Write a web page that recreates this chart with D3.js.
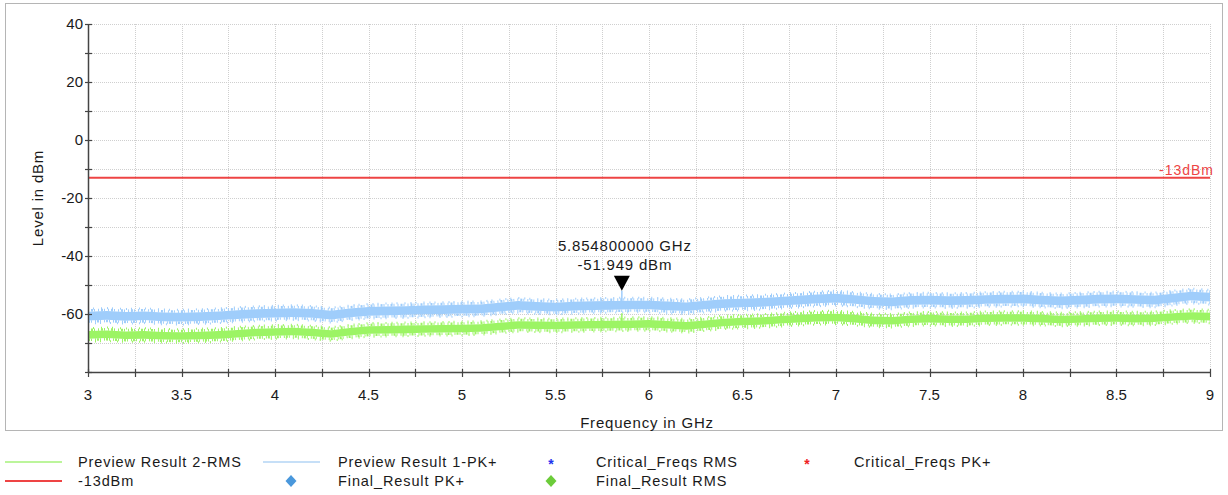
<!DOCTYPE html>
<html><head><meta charset="utf-8">
<script src="https://cdn.jsdelivr.net/npm/d3@7"></script>
<style>
html,body{margin:0;padding:0;background:#fff;}
svg{display:block;font-family:"Liberation Sans",Arial,sans-serif;}
</style></head>
<body>
<svg id="c" width="1228" height="495"></svg>
<script>
// ---- data ----
const freqs = d3.range(61).map(i => +(3 + i * 0.1).toFixed(1)); // GHz sample grid
const bluePk = [-60.7,-60.5,-60.8,-60.6,-61.0,-61.1,-60.9,-60.6,-60.2,-59.9,
  -59.7,-59.5,-59.8,-60.4,-59.6,-59.1,-58.9,-58.8,-58.6,-58.5,
  -58.3,-58.2,-57.6,-57.0,-57.4,-57.6,-57.3,-57.1,-57.0,-56.9,
  -56.9,-57.2,-57.5,-56.9,-56.4,-56.2,-56.0,-55.6,-55.2,-54.8,
  -54.5,-55.0,-55.6,-55.8,-55.3,-55.2,-55.4,-55.3,-55.0,-54.9,
  -54.8,-55.2,-55.5,-55.2,-54.9,-54.8,-55.0,-55.2,-54.5,-53.8,-54.2];
const greenRms = [-67.2,-67.0,-67.3,-67.2,-67.5,-67.6,-67.4,-67.2,-66.8,-66.4,
  -66.2,-66.0,-66.4,-66.9,-66.1,-65.5,-65.4,-65.3,-65.2,-65.1,
  -65.0,-64.8,-64.3,-63.8,-63.9,-64.0,-63.8,-63.7,-63.6,-63.5,
  -63.4,-63.7,-64.1,-63.5,-62.9,-62.6,-62.4,-62.0,-61.6,-61.3,
  -61.2,-61.6,-62.2,-62.3,-61.8,-61.6,-61.8,-61.8,-61.5,-61.4,
  -61.4,-61.6,-61.9,-61.7,-61.5,-61.4,-61.6,-61.5,-61.0,-60.7,-60.9];
const blueSpread = 1.5;   // dB half-width of noise band core
const greenSpread = 1.3;
const markerFreq = 5.8548, markerLevel = -51.949, greenSpikeLevel = -59.7;
const limitLevel = -13;
const yTicksMajor = [-60,-40,-20,0,20,40];
const xTicksMajor = [3,3.5,4,4.5,5,5.5,6,6.5,7,7.5,8,8.5,9];
const legendItems = [
  {label:"Preview Result 2-RMS", type:"line", color:"#a6f27a", col:0, row:0},
  {label:"Preview Result 1-PK+", type:"line", color:"#b3d5f5", col:1, row:0},
  {label:"Critical_Freqs RMS", type:"star", color:"#2233ee", col:2, row:0},
  {label:"Critical_Freqs PK+", type:"star", color:"#ee2222", col:3, row:0},
  {label:"-13dBm", type:"line2", color:"#ee4444", col:0, row:1},
  {label:"Final_Result PK+", type:"diamond", color:"#4a98dc", col:1, row:1},
  {label:"Final_Result RMS", type:"diamond", color:"#6ccc3a", col:2, row:1}
];

// ---- drawing ----
const svg = d3.select("#c");
const x = d3.scaleLinear().domain([3,9]).range([88,1210]);
const y = d3.scaleLinear().domain([-80,40]).range([372,24]);

svg.append("rect").attr("x",5.5).attr("y",3.5).attr("width",1217).attr("height",427)
  .attr("fill","none").attr("stroke","#b5b5b5");

// grid
const g = svg.append("g");
g.selectAll(".hg").data(d3.range(-70,41,10)).join("line")
  .attr("x1",x(3)).attr("x2",x(9)).attr("y1",d=>Math.round(y(d))+0.5).attr("y2",d=>Math.round(y(d))+0.5)
  .attr("stroke","#cfcfcf").attr("stroke-dasharray","1,1");
g.selectAll(".vg").data(d3.range(3.25,9.01,0.25)).join("line")
  .attr("y1",y(40)).attr("y2",y(-80)).attr("x1",d=>Math.round(x(d))+0.5).attr("x2",d=>Math.round(x(d))+0.5)
  .attr("stroke","#cfcfcf").attr("stroke-dasharray","1,1");

// traces as noise bands with fuzzy edges
function band(vals, s, color) {
  const a = d3.area().x((d,i)=>x(freqs[i])).y0(d=>y(d - s)).y1(d=>y(d + s));
  svg.append("path").attr("d", a(vals)).attr("fill", color);
  const lineHi = d3.line().x((d,i)=>x(freqs[i])).y(d=>y(d + s) - 1.2);
  const lineLo = d3.line().x((d,i)=>x(freqs[i])).y(d=>y(d - s) + 1.2);
  [[lineHi,"1,2,2,1,1,3"],[lineLo,"2,1,1,3,1,1"]].forEach(([ln,da])=>{
    svg.append("path").attr("d", ln(vals)).attr("fill","none").attr("stroke",color)
      .attr("stroke-width",2.6).attr("stroke-dasharray",da);
  });
  const lineHi2 = d3.line().x((d,i)=>x(freqs[i])).y(d=>y(d + s) - 3);
  const lineLo2 = d3.line().x((d,i)=>x(freqs[i])).y(d=>y(d - s) + 3);
  [[lineHi2,"1,4,1,7,1,5"],[lineLo2,"1,6,1,4,1,9"]].forEach(([ln,da])=>{
    svg.append("path").attr("d", ln(vals)).attr("fill","none").attr("stroke",color)
      .attr("stroke-width",2).attr("stroke-dasharray",da);
  });
}
band(greenRms, greenSpread, "#9cf464");
band(bluePk, blueSpread, "#9fcdfb");

// marker spikes
const bi = d3.bisector(d=>d).left(freqs, markerFreq);
svg.append("line").attr("x1",x(markerFreq)).attr("x2",x(markerFreq))
  .attr("y1",y(greenSpikeLevel)).attr("y2",y(greenRms[bi]))
  .attr("stroke","#9cf464").attr("stroke-width",1.5);
svg.append("line").attr("x1",x(markerFreq)).attr("x2",x(markerFreq))
  .attr("y1",y(markerLevel)).attr("y2",y(bluePk[bi]))
  .attr("stroke","#9fcdfb").attr("stroke-width",1.5);

// limit line
svg.append("line").attr("x1",x(3)).attr("x2",x(9)).attr("y1",y(limitLevel)).attr("y2",y(limitLevel))
  .attr("stroke","#ee4444").attr("stroke-width",2);
svg.append("text").attr("x",x(9)+4).attr("y",y(limitLevel)-3).attr("text-anchor","end")
  .attr("fill","#ee4444").attr("font-size",14).attr("letter-spacing","1px").text("-13dBm");

// axes
const ya = svg.append("g");
ya.append("line").attr("x1",88.5).attr("x2",88.5).attr("y1",y(40)).attr("y2",y(-80)).attr("stroke","#444").attr("stroke-width",1.5);
ya.selectAll(".yt").data(d3.range(-80,41,10)).join("line")
  .attr("x1",85).attr("x2",92).attr("y1",d=>Math.round(y(d))+0.5).attr("y2",d=>Math.round(y(d))+0.5)
  .attr("stroke","#444").attr("stroke-width",1.2);
ya.selectAll(".yl").data(yTicksMajor).join("text")
  .attr("x",83).attr("y",d=>y(d)+5).attr("text-anchor","end").attr("font-size",15).attr("fill","#1a1a1a")
  .text(d=>d);
const xa = svg.append("g");
xa.append("line").attr("x1",x(3)).attr("x2",x(9)).attr("y1",372.5).attr("y2",372.5).attr("stroke","#444").attr("stroke-width",1.5);
xa.selectAll(".xt").data(d3.range(3,9.01,0.25)).join("line")
  .attr("x1",d=>Math.round(x(d))+0.5).attr("x2",d=>Math.round(x(d))+0.5).attr("y1",369).attr("y2",377)
  .attr("stroke","#444").attr("stroke-width",1.2);
xa.selectAll(".xl").data(xTicksMajor).join("text")
  .attr("x",d=>x(d)).attr("y",400).attr("text-anchor","middle").attr("font-size",15).attr("fill","#1a1a1a")
  .text(d=>d);

svg.append("text").attr("transform","translate(43,198) rotate(-90)").attr("text-anchor","middle")
  .attr("font-size",15).attr("letter-spacing","0.8px").attr("fill","#1a1a1a").text("Level in dBm");
svg.append("text").attr("x",647).attr("y",428).attr("text-anchor","middle")
  .attr("font-size",15).attr("letter-spacing","0.8px").attr("fill","#1a1a1a").text("Frequency in GHz");

// marker
const mx = x(markerFreq), my = y(markerLevel);
svg.append("path").attr("d",`M${mx-8},${my-15}L${mx+8},${my-15}L${mx},${my}Z`).attr("fill","#000");
svg.append("text").attr("x",mx+3).attr("y",my-40).attr("text-anchor","middle").attr("font-size",15)
  .attr("letter-spacing","0.8px").attr("fill","#1a1a1a").text(markerFreq.toFixed(9) + " GHz");
svg.append("text").attr("x",mx+3).attr("y",my-21).attr("text-anchor","middle").attr("font-size",15)
  .attr("letter-spacing","0.8px").attr("fill","#1a1a1a").text(markerLevel.toFixed(3) + " dBm");

// legend
const colSym = [33, 291, 551, 807], colText = [78, 338, 596, 854], rowY = [463, 482];
const lg = svg.append("g");
legendItems.forEach(it => {
  const cx = colSym[it.col], cy = rowY[it.row];
  if (it.type === "line" || it.type === "line2") {
    const lx0 = it.col === 0 ? 5 : 263, lx1 = it.col === 0 ? 62 : 320;
    lg.append("line").attr("x1",lx0).attr("x2",lx1).attr("y1",cy-1).attr("y2",cy-1)
      .attr("stroke",it.color).attr("stroke-width",it.type==="line2"?2:1.3);
  } else if (it.type === "diamond") {
    lg.append("path").attr("d",`M${cx},${cy-7}L${cx+5.5},${cy-1}L${cx},${cy+5}L${cx-5.5},${cy-1}Z`)
      .attr("fill",it.color);
  } else {
    lg.append("text").attr("x",cx).attr("y",cy+6).attr("text-anchor","middle").attr("font-size",14)
      .attr("fill",it.color).attr("font-weight","bold").text("*");
  }
  lg.append("text").attr("x",colText[it.col]).attr("y",cy+4).attr("font-size",14.5)
    .attr("fill","#1a1a1a").attr("letter-spacing","0.9px").text(it.label);
});
</script>
</body></html>
